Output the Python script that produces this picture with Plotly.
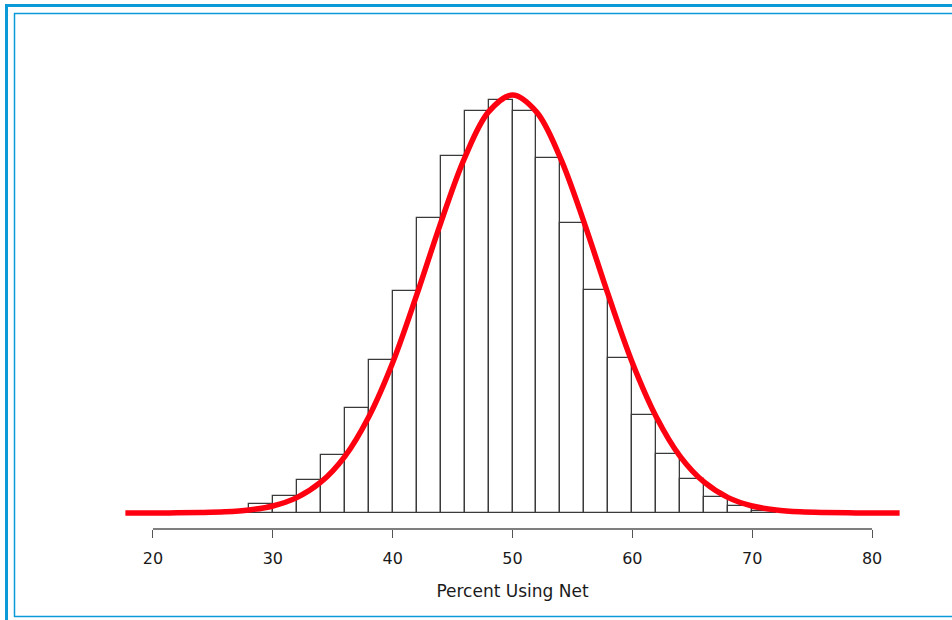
import plotly.graph_objects as go

# Histogram of the percentage of people using the net (density scale, bin width 2)
bin_left = [26, 28, 30, 32, 34, 36, 38, 40, 42, 44, 46, 48,
            50, 52, 54, 56, 58, 60, 62, 64, 66, 68, 70]
density = [0.0003, 0.0012, 0.0023, 0.0045, 0.0079, 0.0143, 0.0209, 0.0303,
           0.0402, 0.0487, 0.0548, 0.0563, 0.0548, 0.0484, 0.0395, 0.0304,
           0.0211, 0.0134, 0.0080, 0.0046, 0.0022, 0.0010, 0.0003]
bin_width = 2

# Fitted normal density curve (mean about 50, sd about 7)
curve_x = [17.7, 20, 22, 24, 26, 28, 30, 32, 34, 36, 38, 40, 42, 44, 46, 48, 50,
           52, 54, 56, 58, 60, 62, 64, 66, 68, 70, 72, 74, 76, 78, 80, 82.3]
curve_y = [0.0, 0.00001, 0.00002, 0.00006, 0.00016, 0.00041, 0.00096, 0.0021,
           0.0042, 0.0077, 0.0131, 0.0205, 0.0297, 0.0395, 0.0484, 0.0547,
           0.0570,
           0.0547, 0.0484, 0.0395, 0.0297, 0.0205, 0.0131, 0.0077, 0.0042,
           0.0021, 0.00096, 0.00041, 0.00016, 0.00006, 0.00002, 0.00001, 0.0]

tick_vals = [20, 30, 40, 50, 60, 70, 80]
tick_text = ["20", "30", "40", "50", "60", "70", "80"]
x_title = "Percent Using Net"

W, H = 952, 620
L, R, T, B = 111, 38, 80, 91
PW, PH = W - L - R, H - T - B


def px(x):
    return (x - L) / PW


def py(y):
    return (H - B - y) / PH


fig = go.Figure()
fig.add_trace(go.Bar(
    x=[b + bin_width / 2 for b in bin_left],
    y=density,
    width=bin_width,
    marker=dict(color="white", line=dict(color="#3a3a3a", width=1.3)),
    hoverinfo="skip",
))
fig.add_trace(go.Scatter(
    x=curve_x, y=curve_y, mode="lines",
    line=dict(color="#ff0010", width=5.5, shape="spline", smoothing=1),
    hoverinfo="skip",
))

blue = "#0a9ad8"
shapes = [
    # axis line spanning the tick range only
    dict(type="line", xref="x", yref="paper", x0=tick_vals[0], x1=tick_vals[-1],
         y0=0, y1=0, line=dict(color="#555555", width=1.3)),
    # outer frame
    dict(type="line", xref="paper", yref="paper", x0=px(5), x1=px(960),
         y0=py(5.5), y1=py(5.5), line=dict(color=blue, width=3)),
    dict(type="line", xref="paper", yref="paper", x0=px(6.5), x1=px(6.5),
         y0=py(4), y1=py(630), line=dict(color=blue, width=3)),
    # inner frame
    dict(type="line", xref="paper", yref="paper", x0=px(14), x1=px(960),
         y0=py(13.5), y1=py(13.5), line=dict(color=blue, width=1.5)),
    dict(type="line", xref="paper", yref="paper", x0=px(14.5), x1=px(14.5),
         y0=py(13), y1=py(617), line=dict(color=blue, width=1.5)),
    dict(type="line", xref="paper", yref="paper", x0=px(14), x1=px(960),
         y0=py(616.5), y1=py(616.5), line=dict(color=blue, width=1.5)),
]

fig.update_layout(
    width=W, height=H,
    margin=dict(l=L, r=R, t=T, b=B, pad=0),
    paper_bgcolor="white", plot_bgcolor="white",
    showlegend=False,
    bargap=0,
    font=dict(family="DejaVu Sans, Liberation Sans, sans-serif", size=16,
              color="#1a1a1a"),
    shapes=shapes,
    xaxis=dict(
        range=[16.5, 83.5], tickvals=tick_vals, ticktext=tick_text,
        ticks="outside", ticklen=8, tickwidth=1.3, tickcolor="#555555",
        ticklabelstandoff=7,
        showgrid=False, zeroline=False, showline=False,
        tickfont=dict(size=16),
        title=dict(text=x_title, font=dict(size=17), standoff=17),
    ),
    yaxis=dict(
        range=[-0.00218, 0.05905], visible=False,
        showgrid=False, zeroline=False,
    ),
)

fig.write_html("out.html")
